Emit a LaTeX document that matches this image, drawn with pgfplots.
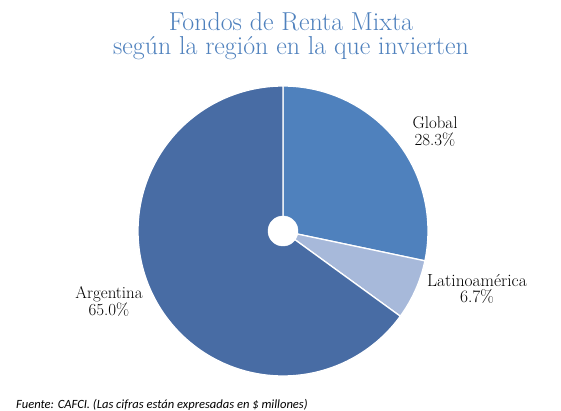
\documentclass[border=0pt]{standalone}
\usepackage{fontspec}
\newfontfamily\footfont{Carlito}
\usepackage{pgfplots}
\pgfplotsset{compat=1.18}
\usepackage{pgfplotstable}
\definecolor{cGlobal}{RGB}{79,129,189}
\definecolor{cLatam}{RGB}{167,185,218}
\definecolor{cArg}{RGB}{72,108,164}
\definecolor{cTitle}{RGB}{79,129,189}
\pgfplotstableread{
label value
Global 28.3
Latinoamerica 6.7
Argentina 65.0
}\pietable
\begin{document}
\begin{tikzpicture}
\pgfplotstablegetelem{0}{value}\of\pietable \let\vA\pgfplotsretval
\pgfplotstablegetelem{1}{value}\of\pietable \let\vB\pgfplotsretval
\pgfplotstablegetelem{2}{value}\of\pietable \let\vC\pgfplotsretval
\pgfmathsetmacro\aA{90}
\pgfmathsetmacro\aB{90-3.6*\vA}
\pgfmathsetmacro\aC{\aB-3.6*\vB}
\pgfmathsetmacro\aD{\aC-3.6*\vC}
\useasboundingbox (0,0) rectangle (561bp,411bp);
\begin{axis}[at={(0,0)}, anchor=south west, scale only axis,
  width=561bp, height=411bp, xmin=0, xmax=561, ymin=0, ymax=411,
  hide axis, clip=false]
\addplot[fill=cGlobal, draw=white, line width=1.3pt, domain=\aB:\aA, samples=80, variable=\t]
  ({283+145*cos(\t)},{180+145*sin(\t)}) -- (axis cs:283,180) -- cycle;
\addplot[fill=cLatam, draw=white, line width=1.3pt, domain=\aC:\aB, samples=30, variable=\t]
  ({283+145*cos(\t)},{180+145*sin(\t)}) -- (axis cs:283,180) -- cycle;
\addplot[fill=cArg, draw=white, line width=1.3pt, domain=\aD:\aC, samples=160, variable=\t]
  ({283+145*cos(\t)},{180+145*sin(\t)}) -- (axis cs:283,180) -- cycle;
\addplot[fill=white, draw=white, domain=0:360, samples=60, variable=\t]
  ({283+15*cos(\t)},{180+15*sin(\t)}) -- cycle;
\node[text=cTitle, font=\addfontfeature{FakeBold=0.4}\fontsize{26}{26}\selectfont, anchor=base] at (axis cs:291,380)
  {Fondos de Renta Mixta};
\node[text=cTitle, font=\addfontfeature{FakeBold=0.4}\fontsize{26}{26}\selectfont, anchor=base] at (axis cs:291,356)
  {según la región en la que invierten};
\node[align=center, anchor=base, font=\fontsize{17}{18}\selectfont] at (axis cs:435,265) {Global\\28.3\%};
\node[align=center, anchor=base, font=\fontsize{17.5}{17}\selectfont] at (axis cs:477,108) {Latinoamérica\\6.7\%};
\node[align=center, anchor=base, font=\fontsize{17}{18}\selectfont] at (axis cs:109,95) {Argentina\\65.0\%};
\node[anchor=base west, inner sep=0pt, font=\footfont\itshape\fontsize{12.6}{14}\selectfont] at (axis cs:16,3)
  {Fuente: CAFCI. (Las cifras están expresadas en \$ millones)};
\end{axis}
\end{tikzpicture}
\end{document}
